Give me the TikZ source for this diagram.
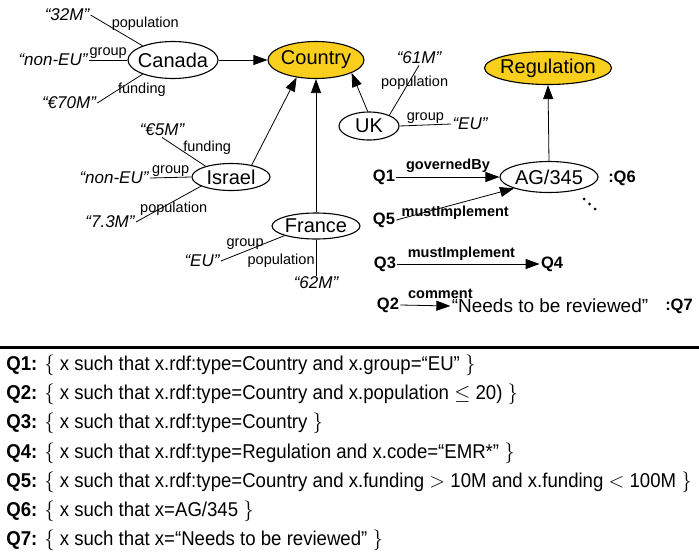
\documentclass[tikz,border=0pt]{standalone}
\usepackage{fontspec}
\setmainfont{Liberation Sans}
\newfontfamily\qfont[FakeStretch=0.93]{Liberation Sans}
\usetikzlibrary{shapes.geometric,arrows.meta}
\definecolor{classyellow}{RGB}{250,206,28}

\begin{document}
\begin{tikzpicture}[x=1pt, y=-1pt, line width=0.8pt, >={Triangle[length=14pt,width=10pt]},
	main/.style = {draw, ellipse, line width=1.1pt, inner sep=-5pt, font=\fontsize{20}{22}\selectfont},
	class/.style = {main, fill=classyellow},
	lit/.style = {inner sep=1pt, font=\fontsize{17}{20}\selectfont\itshape},
	prop/.style = {inner sep=1pt, font=\fontsize{14.5}{16}\selectfont},
	qprop/.style = {inner sep=1pt, font=\fontsize{14.5}{16}\selectfont\bfseries},
	qvar/.style = {inner sep=1pt, font=\fontsize{16.5}{19}\selectfont\bfseries},
	query/.style = {anchor=west, inner sep=0pt, font=\fontsize{20}{24}\qfont}]

	\useasboundingbox (0,0) rectangle (699,552);

	% classes and instances
	\node[class, minimum width=96pt, minimum height=37pt] (country) at (316,60) {Country};
	\node[class, minimum width=127pt, minimum height=33pt] (regulation) at (548,68) {Regulation};
	\node[main, minimum width=90pt, minimum height=37pt] (canada) at (173,60) {Canada};
	\node[main, minimum width=78pt, minimum height=27pt] (israel) at (231,177) {Israel};
	\node[main, minimum width=88pt, minimum height=26pt] (france) at (316,226) {France};
	\node[main, minimum width=60pt, minimum height=28pt] (uk) at (369,126) {UK};
	\node[main, minimum width=98pt, minimum height=31pt] (ag) at (549,177) {AG/345};

	% literal values
	\node[lit] (c32) at (67,15) {“32M”};
	\node[lit] (cnoneu) at (53,60) {“non-EU”};
	\node[lit] (c70) at (69,103) {“€70M”};
	\node[lit] (i5) at (162,130) {“€5M”};
	\node[lit] (inoneu) at (114,178) {“non-EU”};
	\node[lit] (i73) at (110,222) {“7.3M”};
	\node[lit] (feu) at (202,261) {“EU”};
	\node[lit] (f62) at (316,283) {“62M”};
	\node[lit] (uk61) at (419,58) {“61M”};
	\node[lit] (ukeu) at (470,124) {“EU”};

	\draw[->] (canada) -- (country);
	\draw[->] (israel.30) -- (country.222);
	\draw[->] (france.north) -- (country.south);
	\draw[->] (uk.95) -- (country.340);
	\draw[->] (ag.north) -- (regulation.south);

	\draw (c32.east) -- node[prop, pos=0.4, anchor=base west, inner sep=0pt] (lcpop) {population} (canada.155);
	\draw (cnoneu.east) -- node[prop, midway, above] (lcgroup) {group} (canada.west);
	\draw (c70.east) -- node[prop, pos=0.45, anchor=west, inner sep=0pt] (lcfund) {funding} (canada.205);
	\draw (i5.south) -- node[prop, pos=0.48, anchor=base west, inner sep=0pt] (lifund) {funding} (israel.157);
	\draw (inoneu.east) -- node[prop, midway, above] (ligroup) {group} (israel.west);
	\draw (i73.east) -- node[prop, pos=0.58, anchor=north, inner sep=0pt] (lipop) {population} (israel.197);
	\draw (feu.east) -- node[prop, pos=0.38, anchor=south] (lfgroup) {group} (france.197);
	\draw (france.south) -- node[prop, pos=0.6, anchor=east] (lfpop) {population} (f62.north);
	\draw (uk.28) -- node[prop, pos=0.65, xshift=6pt] (lupop) {population} (uk61.south);
	\draw (uk.east) -- node[prop, midway, above] (lugroup) {group} (ukeu.west);

	% queries
	\node[qvar] (q1) at (384,177) {Q1};
	\node[qvar] (q5) at (384,220) {Q5};
	\node[qvar] (q3) at (385,264) {Q3};
	\node[qvar] (q4) at (552,264) {Q4};
	\node[qvar] (q2) at (388,305) {Q2};
	\node[qvar] (q6) at (622,178) {:Q6};
	\node[inner sep=1pt, font=\fontsize{19}{22}\selectfont] (needs) at (550,306) {“Needs to be reviewed”};
	\node[qvar] (q7) at (679,306) {:Q7};

	\draw[->] (q1.east) -- node[qprop, midway, above=3pt] (lgov) {governedBy} (ag.west);
	\draw[->] (q5.east) -- node[qprop, pos=0.5, anchor=north] (limpl) {mustImplement} (ag.198);
	\draw[->] (q3.east) -- node[qprop, pos=0.45, above=2.5pt] (limpl2) {mustImplement} (q4.west);
	\draw[->] (q2.east) -- node[qprop, pos=0.8, above=6pt] (lcom) {comment} (needs.west);

	\fill (584,199) circle (1.5) (589.5,204) circle (1.5) (595,209) circle (1.5);

	% query definitions
	\draw[line width=3pt] (0,347) -- (699,347);
	\node[query] (d1) at (6,365) {\textbf{Q1:} $\{$ x such that x.rdf:type=Country and x.group=“EU” $\}$};
	\node[query] (d2) at (6,394.3) {\textbf{Q2:} $\{$ x such that x.rdf:type=Country and x.population $\leq$ 20) $\}$};
	\node[query] (d3) at (6,423.6) {\textbf{Q3:} $\{$ x such that x.rdf:type=Country $\}$};
	\node[query] (d4) at (6,452.9) {\textbf{Q4:} $\{$ x such that x.rdf:type=Regulation and x.code=“EMR*” $\}$};
	\node[query] (d5) at (6,482.2) {\textbf{Q5:} $\{$ x such that x.rdf:type=Country and x.funding $>$ 10M and x.funding $<$ 100M $\}$};
	\node[query] (d6) at (6,511.5) {\textbf{Q6:} $\{$ x such that x=AG/345 $\}$};
	\node[query] (d7) at (6,540.8) {\textbf{Q7:} $\{$ x such that x=“Needs to be reviewed” $\}$};
\end{tikzpicture}
\end{document}
